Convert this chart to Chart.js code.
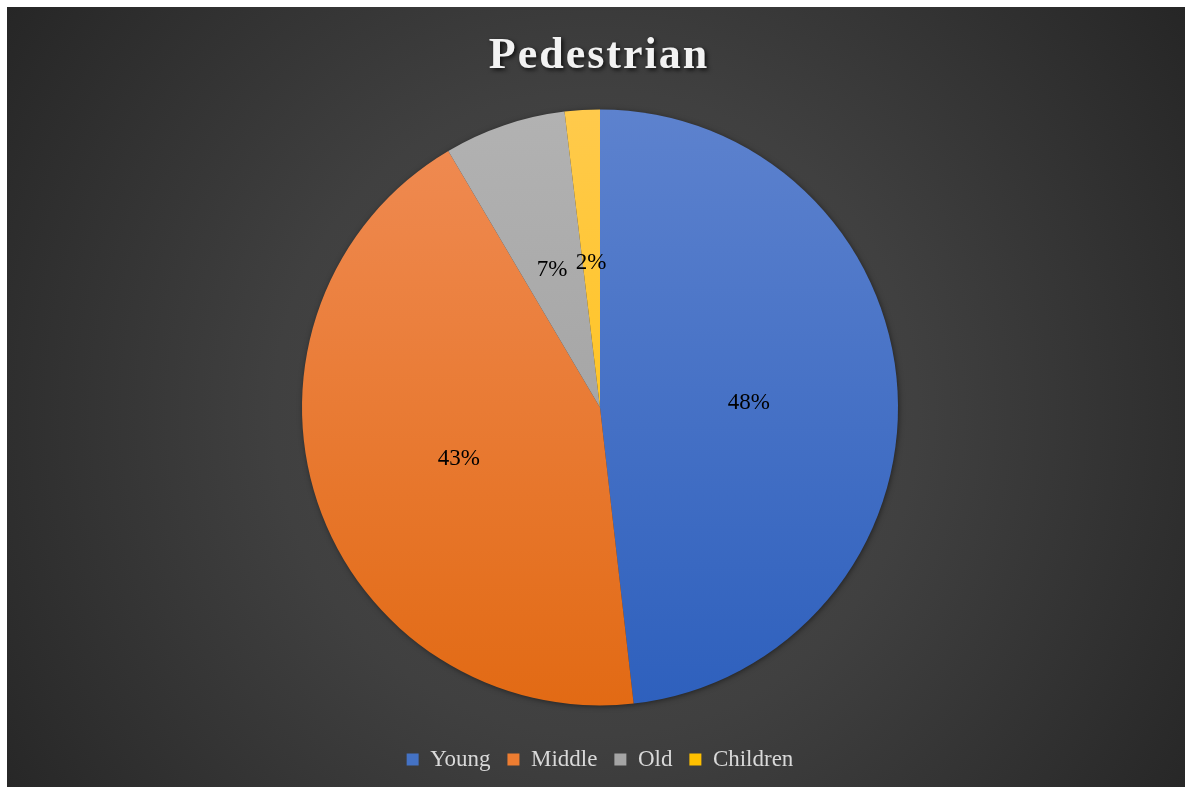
<!DOCTYPE html>
<html lang="en">
<head>
    <meta charset="UTF-8">
    <title>Pedestrian</title>
    <script src="https://cdn.jsdelivr.net/npm/chart.js"></script>
    <style>
        body { margin: 0; background: #ffffff; }
        .quadro {
            position: absolute;
            left: 7px; top: 7px;
            width: 1178px; height: 780px;
            background: radial-gradient(circle farthest-corner at 50% 52%, #4a4a4a 0%, #404040 45%, #262626 100%);
        }
    </style>
</head>
<body>
    <div class="quadro">
        <canvas id="chartPie" width="1178" height="780"></canvas>
    </div>

<script>
    // dados do gráfico
    var titulo = 'Pedestrian';
    var categorias = ['Young', 'Middle', 'Old', 'Children'];
    var valores = [48.2, 43.3, 6.6, 1.9];

    // cores: [topo, base] de cada fatia
    var coresTopo = ['#5d82ce', '#f08c55', '#b2b2b2', '#ffca4c'];
    var coresBase = ['#2e60bd', '#e26a14', '#9a9a9a', '#ffbf00'];
    var coresLegenda = ['#4472c4', '#ed7d31', '#a5a5a5', '#ffc000'];

    var RAIO = 298;

    function corFatia(context) {
        var i = context.dataIndex;
        var chart = context.chart;
        var area = chart.chartArea;
        if (!area) return coresLegenda[i];
        var cy = (area.top + area.bottom) / 2;
        var g = chart.ctx.createLinearGradient(0, cy - RAIO, 0, cy + RAIO);
        g.addColorStop(0, coresTopo[i]);
        g.addColorStop(1, coresBase[i]);
        return g;
    }

    // sombra em volta da pizza
    var pluginSombra = {
        id: 'sombra',
        beforeDatasetsDraw: function (chart) {
            var arco = chart.getDatasetMeta(0).data[0];
            if (!arco) return;
            var ctx = chart.ctx;
            ctx.save();
            ctx.shadowColor = 'rgba(0,0,0,0.6)';
            ctx.shadowBlur = 6;
            ctx.shadowOffsetX = 1;
            ctx.shadowOffsetY = 1;
            ctx.fillStyle = '#333333';
            ctx.beginPath();
            ctx.arc(arco.x, arco.y, arco.outerRadius - 1, 0, Math.PI * 2);
            ctx.fill();
            ctx.restore();
        }
    };

    // rótulos de porcentagem e título
    var pluginRotulos = {
        id: 'rotulos',
        afterDatasetsDraw: function (chart) {
            var ctx = chart.ctx;
            var total = valores.reduce(function (a, b) { return a + b; }, 0);
            ctx.save();
            ctx.font = '23px "Liberation Serif", "Times New Roman", serif';
            ctx.fillStyle = '#000000';
            ctx.textAlign = 'center';
            ctx.textBaseline = 'middle';
            chart.getDatasetMeta(0).data.forEach(function (arco, i) {
                var pos = arco.tooltipPosition();
                ctx.fillText(Math.round(valores[i] / total * 100) + '%', pos.x, pos.y + 4);
            });
            ctx.restore();
        },
        afterDraw: function (chart) {
            var ctx = chart.ctx;
            ctx.save();
            ctx.font = 'bold 44px "Liberation Serif", "Times New Roman", serif';
            ctx.letterSpacing = '2px';
            ctx.fillStyle = '#f2f2f2';
            ctx.textAlign = 'center';
            ctx.textBaseline = 'alphabetic';
            ctx.shadowColor = 'rgba(0,0,0,0.75)';
            ctx.shadowBlur = 4;
            ctx.shadowOffsetX = 2;
            ctx.shadowOffsetY = 2;
            ctx.fillText(titulo, 592, 61);
            ctx.restore();
        }
    };

    var ctxPie = document.getElementById('chartPie').getContext('2d');
    var configPie = {
        type: 'pie',
        data: {
            labels: categorias,
            datasets: [{
                data: valores,
                backgroundColor: corFatia,
                borderWidth: 0
            }]
        },
        options: {
            responsive: false,
            animation: false,
            radius: RAIO,
            layout: {
                padding: { left: 8, right: 0, top: 77, bottom: 6 }
            },
            plugins: {
                tooltip: { enabled: false },
                legend: {
                    position: 'bottom',
                    labels: {
                        boxWidth: 12,
                        boxHeight: 12,
                        padding: 17,
                        color: '#d9d9d9',
                        font: { family: '"Liberation Serif", "Times New Roman", serif', size: 23 },
                        generateLabels: function (chart) {
                            return categorias.map(function (c, i) {
                                return {
                                    text: c,
                                    fillStyle: coresLegenda[i],
                                    strokeStyle: coresLegenda[i],
                                    lineWidth: 0,
                                    fontColor: '#d9d9d9',
                                    index: i
                                };
                            });
                        }
                    }
                }
            }
        },
        plugins: [pluginSombra, pluginRotulos]
    };

    var graficoPie = new Chart(ctxPie, configPie);
</script>
</body>
</html>
